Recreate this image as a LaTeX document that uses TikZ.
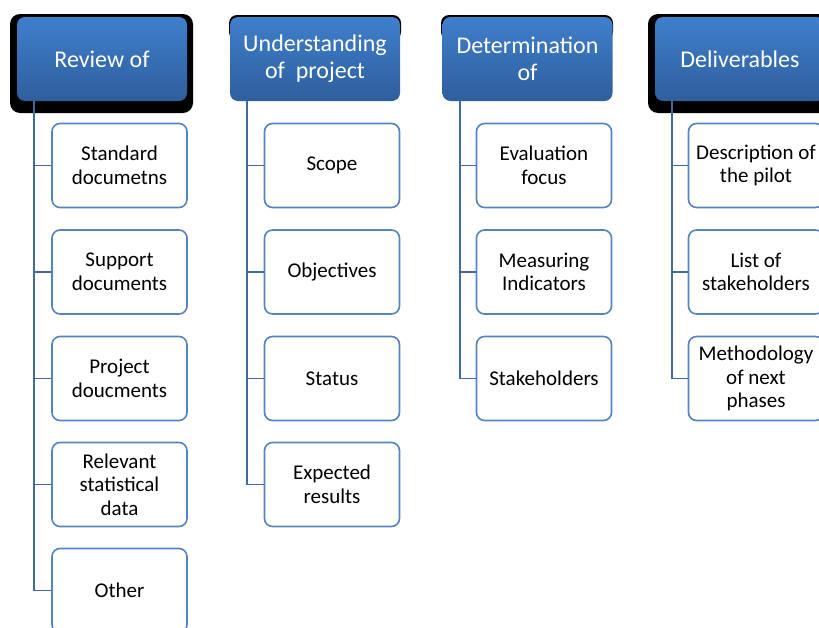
\documentclass[tikz,border=0pt]{standalone}
\usepackage{fontspec}
\setmainfont{Carlito}
\usetikzlibrary{positioning}

\definecolor{hdtop}{HTML}{3F7FCC}
\definecolor{hdbot}{HTML}{2F5E9C}
\definecolor{boxline}{HTML}{5583BE}
\definecolor{linkline}{HTML}{44699B}

\begin{document}
\begin{tikzpicture}[x=1pt,y=-1pt,
 head/.style={rounded corners=8pt,top color=hdtop,bottom color=hdbot,minimum width=170pt,minimum height=84pt,inner sep=0pt,align=center,text=white,font=\fontsize{24}{27}\selectfont},
 item/.style={rounded corners=8pt,draw=boxline,line width=1.6pt,fill=white,minimum width=135pt,minimum height=84pt,inner sep=0pt,align=center,font=\fontsize{21}{23.5}\selectfont},
 link/.style={draw=linkline,line width=1.8pt}]
 \useasboundingbox (0,0) rectangle (819,627);
 \clip (0,0) rectangle (819,627);
 % dark backs of the headers
 \fill[black,rounded corners=10pt](10,14) rectangle (193,113);
 \fill[black,rounded corners=8pt](229,15) rectangle (401,40);
 \fill[black,rounded corners=8pt](441,15) rectangle (613,40);
 \fill[black,rounded corners=10pt](648,14) rectangle (832,113);
 % headers
 \node[head] (review) at (102,59) {Review of};
 \node[head] (underst) at (315,59) {Understanding\\of\ \ project};
 \node[head] (determ) at (527.5,59) {Determination\\of};
 \node[head] (deliv) at (740,59) {Deliverables};
 % column 1
 \node[item] (rev1) at (119.5,165.5) {Standard\\documetns};
 \node[item] (rev2) at (119.5,272) {Support\\documents};
 \node[item] (rev3) at (119.5,378.5) {Project\\doucments};
 \node[item] (rev4) at (119.5,484.5) {Relevant\\statistical\\data};
 \node[item] (rev5) at (119.5,590.5) {Other};
 % column 2
 \node[item] (und1) at (332,165.5) {Scope};
 \node[item] (und2) at (332,272) {Objectives};
 \node[item] (und3) at (332,378.5) {Status};
 \node[item] (und4) at (332,484.5) {Expected\\results};
 % column 3
 \node[item] (det1) at (544,165.5) {Evaluation\\focus};
 \node[item] (det2) at (544,272) {Measuring\\Indicators};
 \node[item] (det3) at (544,378.5) {Stakeholders};
 % column 4
 \node[item] (del1) at (756,165.5) {Description of\\the pilot};
 \node[item] (del2) at (756,272) {List of\\stakeholders};
 \node[item] (del3) at (756,378.5) {Methodology\\of next\\phases};
 % connectors
 \foreach \h/\c in {review/rev1,review/rev2,review/rev3,review/rev4,review/rev5,
   underst/und1,underst/und2,underst/und3,underst/und4,
   determ/det1,determ/det2,determ/det3,
   deliv/del1,deliv/del2,deliv/del3}
  \draw[link] ([xshift=17.5pt]\h.south west) |- (\c.west);
\end{tikzpicture}
\end{document}
